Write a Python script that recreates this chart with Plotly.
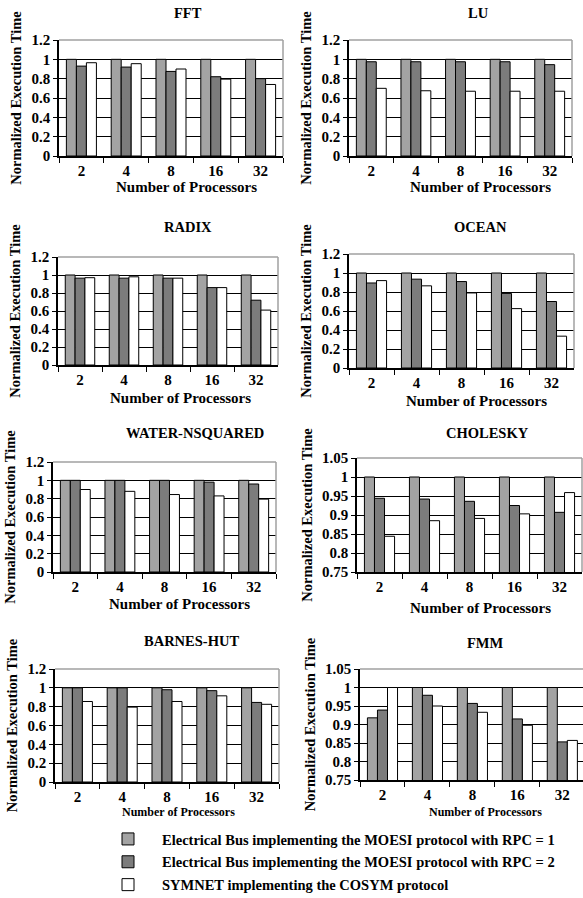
import plotly.graph_objects as go

W, H = 583, 898

processors = ["2", "4", "8", "16", "32"]
series_names = [
    "Electrical Bus implementing the MOESI protocol with RPC = 1",
    "Electrical Bus implementing the MOESI protocol with RPC = 2",
    "SYMNET implementing the COSYM protocol",
]
series_colors = ["#a3a3a3", "#7c7c7c", "#ffffff"]

fft_rpc1 = [1.0, 1.0, 1.0, 1.0, 1.0]
fft_rpc2 = [0.93, 0.92, 0.875, 0.82, 0.80]
fft_symnet = [0.965, 0.955, 0.90, 0.795, 0.74]

lu_rpc1 = [1.0, 1.0, 1.0, 1.0, 1.0]
lu_rpc2 = [0.975, 0.975, 0.975, 0.975, 0.945]
lu_symnet = [0.70, 0.675, 0.67, 0.67, 0.67]

radix_rpc1 = [1.0, 1.0, 1.0, 1.0, 1.0]
radix_rpc2 = [0.965, 0.965, 0.965, 0.86, 0.72]
radix_symnet = [0.97, 0.98, 0.965, 0.86, 0.61]

ocean_rpc1 = [1.0, 1.0, 1.0, 1.0, 1.0]
ocean_rpc2 = [0.895, 0.935, 0.91, 0.785, 0.70]
ocean_symnet = [0.92, 0.865, 0.79, 0.625, 0.335]

water_rpc1 = [1.0, 1.0, 1.0, 1.0, 1.0]
water_rpc2 = [1.0, 1.0, 1.0, 0.98, 0.96]
water_symnet = [0.90, 0.88, 0.845, 0.83, 0.795]

cholesky_rpc1 = [1.0, 1.0, 1.0, 1.0, 1.0]
cholesky_rpc2 = [0.944, 0.942, 0.936, 0.925, 0.907]
cholesky_symnet = [0.844, 0.885, 0.891, 0.903, 0.959]

barnes_rpc1 = [1.0, 1.0, 1.0, 1.0, 1.0]
barnes_rpc2 = [1.0, 1.0, 0.98, 0.97, 0.845]
barnes_symnet = [0.855, 0.795, 0.855, 0.915, 0.825]

fmm_rpc1 = [0.918, 1.0, 1.0, 1.0, 1.0]
fmm_rpc2 = [0.939, 0.979, 0.957, 0.915, 0.853]
fmm_symnet = [1.0, 0.95, 0.933, 0.898, 0.857]

y_full_ticks = [0, 0.2, 0.4, 0.6, 0.8, 1, 1.2]
y_zoom_ticks = [0.75, 0.8, 0.85, 0.9, 0.95, 1, 1.05]

# name, data, y ticks, panel box (left, right, top, bottom px), title pos, xtitle pos, xtitle size
panels = [
    ("FFT", (fft_rpc1, fft_rpc2, fft_symnet), y_full_ticks, (59, 283, 40, 156), (188, 13), (186, 187), 15),
    ("LU", (lu_rpc1, lu_rpc2, lu_symnet), y_full_ticks, (349, 572, 40, 156), (478, 13), (480, 187), 15),
    ("RADIX", (radix_rpc1, radix_rpc2, radix_symnet), y_full_ticks, (58, 278, 257, 365), (188, 227), (180, 398), 15),
    ("OCEAN", (ocean_rpc1, ocean_rpc2, ocean_symnet), y_full_ticks, (349, 574, 254, 368), (481, 227), (476, 401), 15),
    ("WATER-NSQUARED", (water_rpc1, water_rpc2, water_symnet), y_full_ticks, (53, 276, 462, 572), (195, 433), (179, 604), 15),
    ("CHOLESKY", (cholesky_rpc1, cholesky_rpc2, cholesky_symnet), y_zoom_ticks, (357, 582, 458, 572), (487, 433), (480, 608), 15),
    ("BARNES-HUT", (barnes_rpc1, barnes_rpc2, barnes_symnet), y_full_ticks, (55, 279, 669, 782), (191, 641), (178, 812), 12),
    ("FMM", (fmm_rpc1, fmm_rpc2, fmm_symnet), y_zoom_ticks, (360, 583, 669, 780), (485, 643), (485, 812), 12),
]

FONT = "Liberation Serif, Times New Roman, serif"

fig = go.Figure()
layout = dict(
    width=W, height=H,
    margin=dict(l=0, r=0, t=0, b=0, autoexpand=False),
    paper_bgcolor="white", plot_bgcolor="white",
    barmode="group", bargap=0.33, bargroupgap=0,
    font=dict(family=FONT, size=13, color="black", weight="bold"),
    showlegend=True,
    legend=dict(
        x=94 / W, xanchor="left", y=1 - 823 / H, yanchor="top",
        font=dict(family=FONT, size=14.5, color="black", weight="bold"),
        itemwidth=58, tracegroupgap=1, bgcolor="rgba(0,0,0,0)",
    ),
)
annotations = []
shapes = []

for i, (name, data, yt, box, tpos, xtpos, xts) in enumerate(panels):
    idx = i + 1
    xa = "x" if idx == 1 else f"x{idx}"
    ya = "y" if idx == 1 else f"y{idx}"
    left, right, top, bottom = box
    for s in range(3):
        fig.add_trace(go.Bar(
            x=processors, y=data[s], name=series_names[s],
            marker=dict(color=series_colors[s], line=dict(color="black", width=1)),
            xaxis=xa, yaxis=ya, showlegend=(idx == 1),
            legendgroup=f"g{s}",
        ))
    xrange = [-0.5, 4.5]
    if name == "FMM":
        xrange = [-0.5, 4.46]
    layout["xaxis" if idx == 1 else f"xaxis{idx}"] = dict(
        domain=[left / W, min(right / W, 1.0)], anchor=ya,
        type="category", range=xrange,
        tickson="boundaries", ticks="outside", ticklen=5, tickcolor="black",
        showline=True, linecolor="black", linewidth=1.5,
        showgrid=False, zeroline=False,
        tickfont=dict(family=FONT, size=15, weight="bold"),
    )
    layout["yaxis" if idx == 1 else f"yaxis{idx}"] = dict(
        domain=[1 - bottom / H, 1 - top / H], anchor=xa,
        range=[yt[0], yt[-1]], tickvals=yt,
        ticks="outside", ticklen=4, tickcolor="black",
        showline=True, linecolor="black", linewidth=1.5,
        showgrid=True, gridcolor="black", gridwidth=1.2,
        zeroline=False,
        tickfont=dict(family=FONT, size=15, weight="bold"),
        title=dict(text="Normalized Execution Time", standoff=6,
                   font=dict(family=FONT, size=14.5, weight="bold")),
    )
    # grey plot border on top/right
    shapes.append(dict(type="line", xref=f"{xa} domain", yref=f"{ya} domain",
                       x0=0, x1=1, y0=1, y1=1, line=dict(color="#a0a0a0", width=1.5), layer="above"))
    if name != "FMM":
        shapes.append(dict(type="line", xref=f"{xa} domain", yref=f"{ya} domain",
                           x0=1, x1=1, y0=0, y1=1, line=dict(color="#a0a0a0", width=1.5), layer="above"))
    annotations.append(dict(text=name, x=tpos[0] / W, y=1 - tpos[1] / H, xref="paper", yref="paper",
                            showarrow=False, xanchor="center", yanchor="middle",
                            font=dict(family=FONT, size=14.5, weight="bold")))
    annotations.append(dict(text="Number of Processors", x=xtpos[0] / W, y=1 - xtpos[1] / H,
                            xref="paper", yref="paper", showarrow=False,
                            xanchor="center", yanchor="middle",
                            font=dict(family=FONT, size=xts, weight="bold")))

layout["annotations"] = annotations
layout["shapes"] = shapes
fig.update_layout(**layout)
fig.write_html("out.html", config={"displayModeBar": False},
               post_script="document.body.style.margin='0';document.body.style.overflow='hidden';")
